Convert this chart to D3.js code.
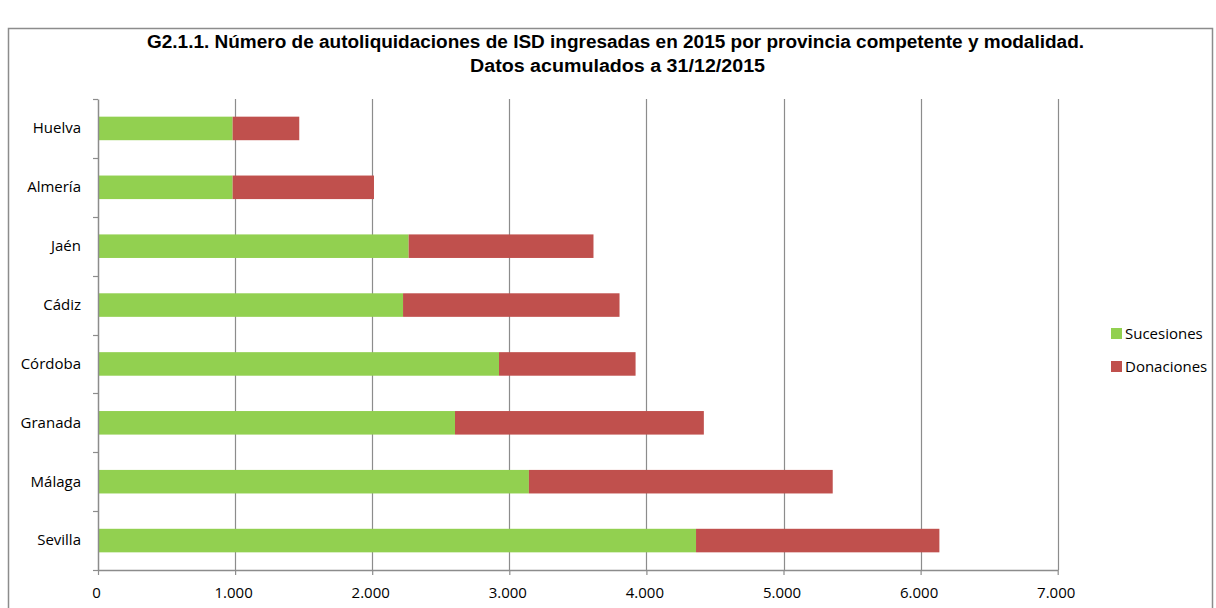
<!DOCTYPE html>
<html><head><meta charset="utf-8">
<script src="https://cdn.jsdelivr.net/npm/d3@7"></script>
<style>
body{margin:0;background:#fff;}
svg{display:block;}
</style></head>
<body>
<svg id="chart" width="1216" height="608"></svg>
<script>
const categories = ["Huelva","Almería","Jaén","Cádiz","Córdoba","Granada","Málaga","Sevilla"];
const sucesiones = [982, 982, 2266, 2225, 2925, 2604, 3143, 4362];
const donaciones = [486, 1031, 1348, 1579, 996, 1815, 2216, 1775];
const seriesNames = ["Sucesiones","Donaciones"];
const seriesColors = ["#92D050","#C0504D"];
const xTicks = [0,1000,2000,3000,4000,5000,6000,7000];
const titleLines = ["G2.1.1. Número de autoliquidaciones de ISD ingresadas en 2015 por provincia competente y modalidad.","Datos acumulados a 31/12/2015"];

const svg = d3.select("#chart");
const W = 1216, H = 608;
const m = {left:98, right:1216-1057.7, top:99, bottom:608-570};

// outer frame
svg.append("rect").attr("x",8.5).attr("y",28.5).attr("width",1204).attr("height",600)
  .attr("fill","none").attr("stroke","#8c8c8c").attr("stroke-width",1.5);

// title
const titleLayout = [{cx:615.5, y:48.3, w:937},{cx:617.5, y:72.3, w:295}];
titleLines.forEach((t,i)=>{
  const L = titleLayout[i];
  svg.append("text").attr("x",L.cx - L.w/2).attr("y",L.y)
    .attr("font-family","'Liberation Sans Narrow','Liberation Sans',sans-serif")
    .attr("font-weight","bold").attr("font-size",18).attr("fill","#000")
    .attr("textLength",L.w).attr("lengthAdjust","spacingAndGlyphs").text(t);
});

const x = d3.scaleLinear().domain([0,7000]).range([m.left, W-m.right]);
const y = d3.scaleBand().domain(categories).range([m.top, H-m.bottom]).paddingInner(0.6).paddingOuter(0.3);
const yb = d3.scaleBand().domain(categories).range([m.top, H-m.bottom]);

// gridlines
svg.append("g").selectAll("line").data(xTicks.slice(1)).join("line")
  .attr("x1",d=>Math.round(x(d))+0.5).attr("x2",d=>Math.round(x(d))+0.5)
  .attr("y1",m.top).attr("y2",H-m.bottom)
  .attr("stroke","#8c8c8c").attr("stroke-width",1.2);

// stacked data
const data = categories.map((c,i)=>({cat:c, Sucesiones:sucesiones[i], Donaciones:donaciones[i]}));
const stack = d3.stack().keys(seriesNames)(data);
const color = d3.scaleOrdinal().domain(seriesNames).range(seriesColors);

svg.append("g").selectAll("g").data(stack).join("g").attr("fill",d=>color(d.key))
  .selectAll("rect").data(d=>d).join("rect")
  .attr("x",d=>x(d[0])).attr("width",d=>x(d[1])-x(d[0]))
  .attr("y",d=>y(d.data.cat)).attr("height",y.bandwidth());

const fontAxis = "'Open Sans','Liberation Sans',sans-serif";
const fs = 15;

// x axis
const xAxis = svg.append("g").attr("transform",`translate(0,${H-m.bottom})`)
  .call(d3.axisBottom(x).tickValues(xTicks).tickSize(5).tickSizeOuter(0)
    .tickFormat(d=>d3.format(",")(d).replace(/,/g,".")));
xAxis.select(".domain").attr("stroke","#8c8c8c").attr("stroke-width",1.5);
xAxis.selectAll(".tick line").attr("stroke","#8c8c8c").attr("stroke-width",1.2);
xAxis.selectAll("text").attr("font-family",fontAxis).attr("font-size",fs).attr("fill","#000")
  .attr("y",27.7).attr("dy",0).attr("dx",-2);

// y axis
const yAxis = svg.append("g").attr("transform",`translate(${m.left},0)`)
  .call(d3.axisLeft(y).tickSize(0).tickPadding(17));
yAxis.select(".domain").attr("stroke","#8c8c8c").attr("stroke-width",1.5);
yAxis.selectAll("text").attr("font-family",fontAxis).attr("font-size",fs).attr("fill","#000");
// category boundary ticks
const bounds = categories.map(c=>yb(c)).concat([H-m.bottom]);
svg.append("g").selectAll("line").data(bounds).join("line")
  .attr("x1",m.left-5).attr("x2",m.left).attr("y1",d=>Math.round(d)+0.5).attr("y2",d=>Math.round(d)+0.5)
  .attr("stroke","#8c8c8c").attr("stroke-width",1.2);

// legend
const lg = svg.append("g").attr("transform","translate(1111,328)");
seriesNames.forEach((s,i)=>{
  lg.append("rect").attr("x",0).attr("y",i*33).attr("width",11).attr("height",11).attr("fill",seriesColors[i]);
  lg.append("text").attr("x",14).attr("y",i*33+11).attr("font-family",fontAxis).attr("font-size",fs).attr("fill","#000").text(s);
});
</script>
</body></html>
